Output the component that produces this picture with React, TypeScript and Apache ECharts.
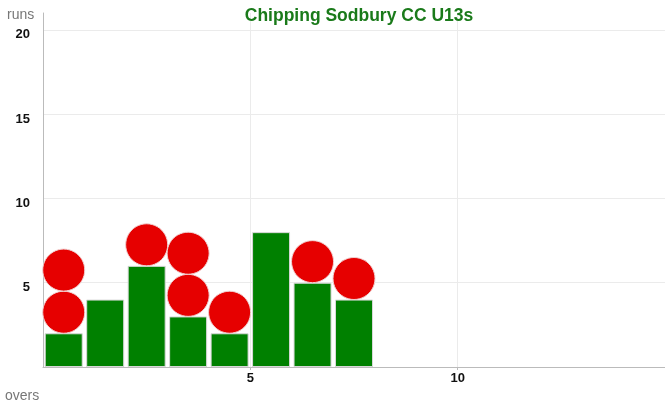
import React, { useEffect, useRef } from "react";
import * as echarts from "echarts";

const overs = [1, 2, 3, 4, 5, 6, 7, 8];
const runs = [2, 4, 6, 3, 2, 8, 5, 4];
const wickets = [2, 0, 1, 2, 1, 0, 1, 1];
const xTicks = [5, 10];
const yTicks = [5, 10, 15, 20];
const title = "Chipping Sodbury CC U13s";

const FONT = "'Helvetica Neue', Helvetica, Arial, 'Liberation Sans', sans-serif";

export default function App() {
  const ref = useRef<HTMLDivElement>(null);
  useEffect(() => {
    if (!ref.current) return;
    const chart = echarts.init(ref.current, null, { renderer: "svg" });
    const barData = overs.map((o, i) => [o - 0.5, runs[i]]);
    const wicketData: number[][] = [];
    overs.forEach((o, i) => {
      for (let k = 0; k < wickets[i]; k++) {
        wicketData.push([o - 0.5, runs[i] + 1.25 + 2.5 * k]);
      }
    });
    chart.setOption({
      animation: false,
      title: {
        text: title,
        left: 354,
        textAlign: "center",
        top: 1,
        textStyle: { color: "#1a7a1a", fontSize: 17.5, fontWeight: "bold", fontFamily: FONT },
      },
      grid: { left: 43, right: -3, top: 13, bottom: 43, containLabel: false },
      xAxis: {
        type: "value",
        min: 0,
        max: 15,
        interval: 5,
        axisLine: { show: true, lineStyle: { color: "#bbb", width: 1 } },
        axisTick: { show: true, length: 3, lineStyle: { color: "#bbb" } },
        axisLabel: {
          showMinLabel: false,
          showMaxLabel: false,
          color: "#111",
          fontWeight: "bold",
          fontSize: 13,
          fontFamily: FONT,
          margin: 4,
          formatter: (v: number) => (xTicks.includes(v) ? String(v) : ""),
        },
        splitLine: { show: true, lineStyle: { color: "#ebebeb" } },
      },
      yAxis: {
        type: "value",
        min: 0,
        max: 21,
        interval: 5,
        axisLine: { show: true, lineStyle: { color: "#bbb", width: 1 } },
        axisTick: { show: false },
        axisLabel: {
          showMinLabel: false,
          showMaxLabel: false,
          color: "#111",
          fontWeight: "bold",
          fontSize: 13,
          fontFamily: FONT,
          margin: 13,
          verticalAlign: "top",
          lineHeight: 8,
          formatter: (v: number) => (yTicks.includes(v) ? String(v) : ""),
        },
        splitLine: {
          show: true,
          showMinLine: false,
          showMaxLine: false,
          lineStyle: { color: "#ebebeb" },
        },
      },
      graphic: [
        {
          type: "text",
          left: 7,
          top: 7,
          style: { text: "runs", fill: "#777", fontSize: 14, fontFamily: FONT },
        },
        {
          type: "text",
          left: 5,
          top: 388,
          style: { text: "overs", fill: "#777", fontSize: 14, fontFamily: FONT },
        },
      ],
      series: [
        {
          type: "bar",
          data: barData,
          barWidth: 38,
          itemStyle: { color: "#008000", borderColor: "#d8d8d8", borderWidth: 1 },
          z: 2,
        },
        {
          type: "scatter",
          data: wicketData,
          symbol: "circle",
          symbolSize: 42,
          itemStyle: { color: "#e60000", borderColor: "#f0d0d0", borderWidth: 1, opacity: 1 },
          z: 3,
        },
      ],
    });
    return () => chart.dispose();
  }, []);
  return (
    <div
      ref={ref}
      style={{ position: "fixed", left: 0, top: 0, width: 665, height: 410 }}
    />
  );
}
